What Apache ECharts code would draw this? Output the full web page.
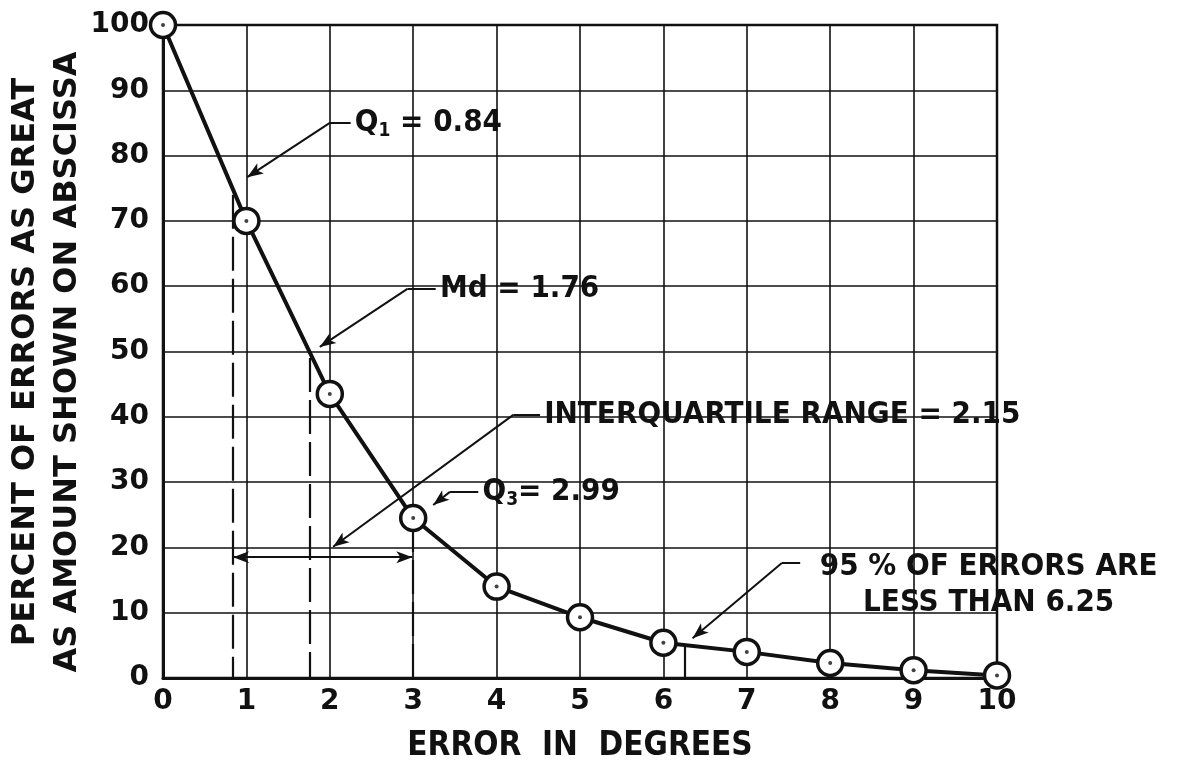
<!DOCTYPE html>
<html>
<head>
<meta charset="utf-8">
<script src="https://cdn.jsdelivr.net/npm/echarts@6/dist/echarts.min.js"></script>
<style>
  html, body { margin: 0; padding: 0; background: #fff; }
  #chart { width: 1183px; height: 764px; }
</style>
</head>
<body>
<div id="chart"></div>
<script>
var errorDeg = [0, 1, 2, 3, 4, 5, 6, 7, 8, 9, 10]
var pctErrors = [100, 70, 43.5, 24.5, 14, 9.3, 5.4, 4, 2.3, 1.2, 0.4]

// quartile markers: position on the x axis and where the dashed drop line starts
var quartX = [0.84, 1.76, 2.99]
var quartTop = [74, 49, 24.5]
var iqrLevel = 18.5
var pct95 = 6.25

var yTitle = 'PERCENT OF ERRORS AS GREAT\nAS AMOUNT SHOWN ON ABSCISSA'
var xTitle = 'ERROR  IN  DEGREES'
var noteText = ['Q{s|1} = 0.84', 'Md = 1.76', 'INTERQUARTILE RANGE = 2.15', 'Q{s|3}= 2.99', '95 % OF ERRORS ARE\nLESS THAN 6.25']

// layout of the notes (data coords): elbow of leader, end of short horizontal, arrow tip
var noteElbow = [[2.0, 85], [2.93, 59.6], [4.2, 40.3], [3.44, 28.5], [7.42, 17.6]]
var noteEnd = [[2.25, 85], [3.27, 59.6], [4.52, 40.3], [3.78, 28.5], [7.64, 17.6]]
var noteTip = [[1.01, 76.7], [1.88, 50.7], [2.04, 20.1], [3.24, 26.5], [6.35, 6.1]]

var font = 'DejaVu Sans Condensed'
var ink = '#111'

var points = errorDeg.map(function (x, i) { return [x, pctErrors[i]] })

var leaderLines = []
for (var i = 0; i < noteText.length; i++) {
    leaderLines.push([{coord: noteElbow[i], symbol: 'none'}, {coord: noteEnd[i], symbol: 'none'}])
    leaderLines.push([{coord: noteElbow[i], symbol: 'none'}, {coord: noteTip[i], symbol: 'arrow', symbolSize: [9, 16]}])
}
var dropLines = []
for (var i = 0; i < quartX.length; i++) {
    dropLines.push([{coord: [quartX[i], quartTop[i]]}, {coord: [quartX[i], 0]}])
}
var noteLabels = []
for (var i = 0; i < noteText.length; i++) {
    var last = i === noteText.length - 1
    noteLabels.push({
        coord: last ? [9.9, 14.2] : [noteEnd[i][0] + 0.05, noteEnd[i][1]],
        label: {
            show: true,
            position: last ? 'inside' : 'right',
            distance: 0,
            align: last ? 'center' : 'left',
            formatter: noteText[i]
        }
    })
}

var option = {
    backgroundColor: '#fff',
    animation: false,
    grid: {
        left: 163, right: 186, top: 25, bottom: 86,
        outerBoundsMode: 'none',
        containLabel: false,
        show: true, borderColor: ink, borderWidth: 2.5
    },
    graphic: [{
        type: 'text',
        x: 47, y: 362,
        rotation: Math.PI / 2,
        style: {
            text: yTitle, fill: ink, align: 'center', verticalAlign: 'middle',
            font: 'bold 32px "DejaVu Sans"', lineHeight: 42
        }
    }],
    xAxis: {
        type: 'value', min: 0, max: 10, interval: 1,
        name: xTitle, nameLocation: 'middle', nameGap: 52,
        nameTextStyle: {fontFamily: font, fontSize: 33, fontWeight: 'bold', color: ink},
        axisLine: {lineStyle: {color: ink, width: 3}},
        axisTick: {show: false},
        axisLabel: {fontFamily: 'DejaVu Sans', fontSize: 28, fontWeight: 'bold', color: ink, margin: 10},
        splitLine: {lineStyle: {color: ink, width: 1.6}}
    },
    yAxis: {
        type: 'value', min: 0, max: 100, interval: 10,
        axisLine: {lineStyle: {color: ink, width: 3}},
        axisTick: {show: false},
        axisLabel: {fontFamily: 'DejaVu Sans', fontSize: 28, fontWeight: 'bold', color: ink, margin: 14},
        splitLine: {lineStyle: {color: ink, width: 1.6}}
    },
    series: [{
        type: 'line',
        data: points,
        symbol: 'none',
        lineStyle: {color: ink, width: 4},
        z: 4,
        markLine: {
            silent: true,
            symbol: 'none',
            label: {show: false},
            lineStyle: {color: ink, width: 2.2, type: [34, 8]},
            data: dropLines.concat([[{coord: [pct95, 5.2]}, {coord: [pct95, 0]}]])
        }
    }, {
        type: 'scatter',
        data: points,
        symbol: 'circle',
        symbolSize: 25,
        itemStyle: {color: '#fff', borderColor: ink, borderWidth: 3.5, opacity: 1},
        z: 5
    }, {
        type: 'scatter',
        data: points,
        symbolSize: 4,
        itemStyle: {color: ink},
        z: 6
    }, {
        type: 'line',
        data: [],
        markLine: {
            silent: true,
            label: {show: false},
            lineStyle: {color: ink, width: 2, type: 'solid'},
            data: leaderLines.concat([[
                {coord: [quartX[0], iqrLevel], symbol: 'arrow', symbolSize: [9, 16]},
                {coord: [quartX[2], iqrLevel], symbol: 'arrow', symbolSize: [9, 16]}
            ]])
        },
        markPoint: {
            silent: true,
            symbol: 'circle',
            symbolSize: 0,
            label: {
                fontFamily: font, fontSize: 31, fontWeight: 'bold', color: ink, lineHeight: 36,
                rich: {s: {fontFamily: font, fontSize: 19, fontWeight: 'bold', color: ink, verticalAlign: 'bottom', padding: [14, 0, 0, 0]}}
            },
            data: noteLabels
        }
    }]
}

var myChart = echarts.init(document.getElementById('chart'))
myChart.setOption(option)
</script>
</body>
</html>
